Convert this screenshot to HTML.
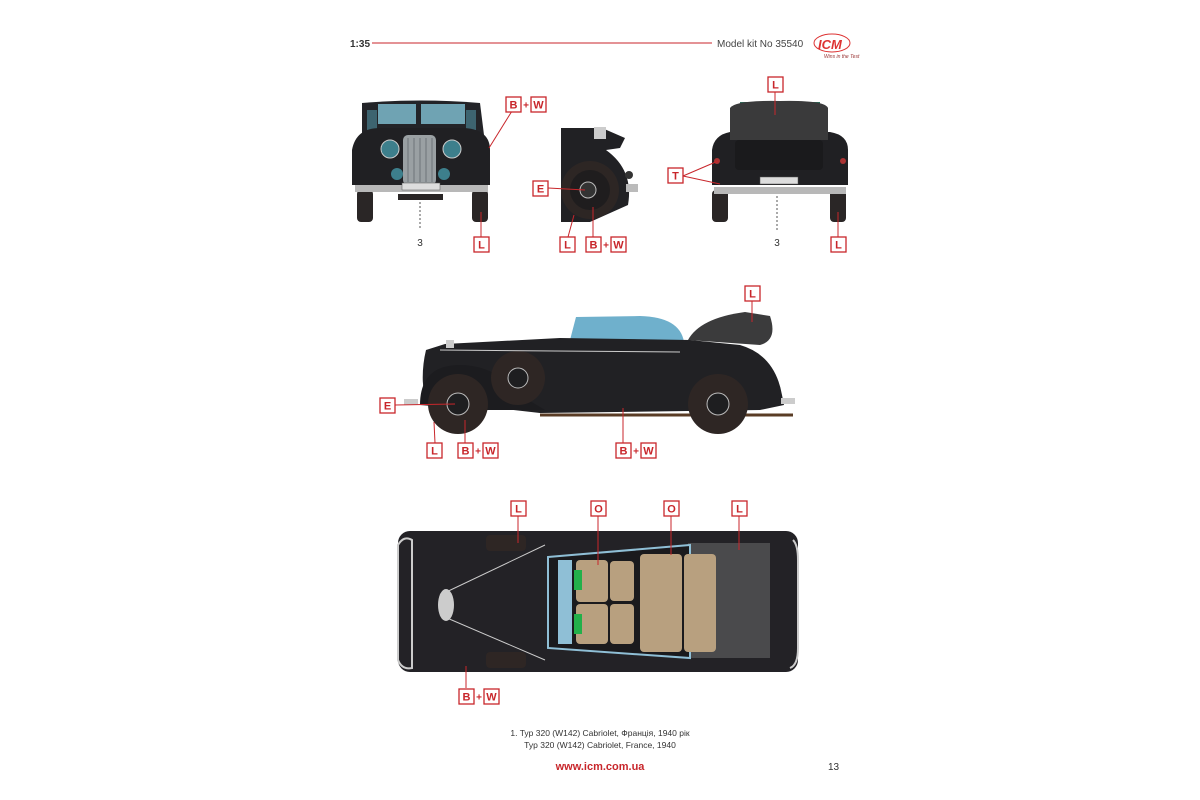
<!DOCTYPE html>
<html><head><meta charset="utf-8"><style>
html,body{margin:0;padding:0;background:#fff;}
svg{display:block}
text{font-family:"Liberation Sans",sans-serif}
.lb rect{fill:#fff;stroke:#c8262b;stroke-width:1.3}
.lb text{fill:#c8262b;font-weight:bold;font-size:11px;text-anchor:middle}
.ld{stroke:#c8262b;stroke-width:1;fill:none}
</style></head><body>
<svg width="1200" height="800" viewBox="0 0 1200 800" xmlns="http://www.w3.org/2000/svg">
<rect width="1200" height="800" fill="#fff"/>
<!-- header -->
<text x="350" y="47" font-size="10" font-weight="bold" fill="#333">1:35</text>
<line x1="372" y1="43" x2="712" y2="43" stroke="#c8262b" stroke-width="1"/>
<text x="717" y="47" font-size="10" fill="#444">Model kit No 35540</text>
<ellipse cx="832" cy="43" rx="18" ry="9" fill="none" stroke="#d33" stroke-width="1"/>
<text x="818" y="49" font-size="13" font-weight="bold" font-style="italic" fill="#d33">ICM</text>
<text x="824" y="58" font-size="5" font-style="italic" fill="#933">Wins in the Test</text>

<!-- FRONT VIEW -->
<g>
<rect x="357" y="190" width="16" height="32" rx="4" fill="#2a2626"/>
<rect x="472" y="190" width="16" height="32" rx="4" fill="#2a2626"/>
<path d="M362 103 Q420 98 480 103 L484 135 L362 135 Z" fill="#232428"/>
<rect x="378" y="104" width="38" height="20" fill="#6fa3b3"/>
<rect x="421" y="104" width="44" height="20" fill="#6fa3b3"/>
<rect x="367" y="110" width="10" height="20" fill="#3d6470"/>
<rect x="466" y="110" width="10" height="20" fill="#3d6470"/>
<path d="M352 150 Q356 128 380 128 L465 128 Q490 130 490 150 L490 185 L352 185 Z" fill="#202023"/>
<rect x="403" y="135" width="33" height="50" rx="5" fill="#9aa0a3"/>
<g stroke="#6e7478" stroke-width="1"><line x1="408" y1="138" x2="408" y2="182"/><line x1="414" y1="138" x2="414" y2="182"/><line x1="420" y1="138" x2="420" y2="182"/><line x1="426" y1="138" x2="426" y2="182"/><line x1="432" y1="138" x2="432" y2="182"/></g>
<circle cx="390" cy="149" r="9" fill="#3d7f8c" stroke="#ccc"/>
<circle cx="452" cy="149" r="9" fill="#3d7f8c" stroke="#ccc"/>
<circle cx="397" cy="174" r="6" fill="#3d7f8c"/>
<circle cx="444" cy="174" r="6" fill="#3d7f8c"/>
<rect x="355" y="185" width="133" height="7" fill="#b8b8b8"/>
<rect x="402" y="183" width="38" height="7" fill="#ddd" stroke="#555" stroke-width=".5"/>
<rect x="398" y="194" width="45" height="6" fill="#2a2626"/>
<line x1="420" y1="202" x2="420" y2="230" stroke="#555" stroke-dasharray="2,2"/>
<text x="420" y="246" font-size="10" fill="#333" text-anchor="middle">3</text>
</g>
<line class="ld" x1="489" y1="148" x2="512" y2="111"/>
<line class="ld" x1="481" y1="212" x2="481" y2="237"/>

<!-- SIDE-FRONT WHEEL -->
<g>
<path d="M561 128 L602 128 L625 138 L620 148 L606 150 Q634 170 628 205 L590 222 L561 222 Z" fill="#212124"/>
<circle cx="590" cy="190" r="29" fill="#2d2624"/>
<circle cx="590" cy="190" r="20" fill="#1f1d1e"/>
<circle cx="588" cy="190" r="8" fill="#333" stroke="#bbb"/>
<rect x="594" y="127" width="12" height="12" fill="#ccc"/>
<rect x="626" y="184" width="12" height="8" fill="#bbb"/>
<circle cx="629" cy="175" r="4" fill="#333"/>
</g>
<line class="ld" x1="548" y1="188" x2="585" y2="190"/>
<line class="ld" x1="568" y1="237" x2="574" y2="215"/>
<line class="ld" x1="593" y1="237" x2="593" y2="207"/>

<!-- REAR VIEW -->
<g>
<rect x="712" y="190" width="16" height="32" rx="4" fill="#2a2626"/>
<rect x="830" y="190" width="16" height="32" rx="4" fill="#2a2626"/>
<path d="M712 150 Q714 135 730 132 L830 132 Q848 135 848 150 L848 185 L712 185 Z" fill="#202023"/>
<rect x="740" y="102" width="80" height="6" fill="#2f6d5a"/>
<path d="M730 108 Q735 100 780 101 Q825 100 828 108 L828 140 L730 140 Z" fill="#3a3a3b"/>
<rect x="735" y="140" width="88" height="30" rx="4" fill="#1a1a1c"/>
<circle cx="717" cy="161" r="3" fill="#a33"/>
<circle cx="843" cy="161" r="3" fill="#a33"/>
<rect x="714" y="187" width="132" height="7" fill="#b8b8b8"/>
<rect x="760" y="177" width="38" height="7" fill="#ddd" stroke="#555" stroke-width=".5"/>
<line x1="777" y1="196" x2="777" y2="230" stroke="#555" stroke-dasharray="2,2"/>
<text x="777" y="246" font-size="10" fill="#333" text-anchor="middle">3</text>
</g>
<line class="ld" x1="775" y1="92" x2="775" y2="115"/>
<line class="ld" x1="683" y1="176" x2="718" y2="161"/>
<line class="ld" x1="683" y1="176" x2="720" y2="184"/>
<line class="ld" x1="838" y1="212" x2="838" y2="237"/>

<!-- SIDE VIEW -->
<g>
<line x1="540" y1="415" x2="793" y2="415" stroke="#5a3c25" stroke-width="3"/>
<path d="M570 340 L576 317 L640 316 Q680 317 684 342 Z" fill="#6fb0cc"/>
<path d="M688 340 Q700 318 745 312 L770 316 Q778 340 760 345 Z" fill="#3b3b3c"/>
<path d="M426 350 L445 344 L560 338 L690 340 L740 345 Q775 355 782 395 L784 405 L760 410 L540 413 L470 405 L425 400 Q420 375 426 350 Z" fill="#212124"/>
<path d="M420 405 Q420 365 460 365 Q495 365 520 395 L545 410 L480 410 Z" fill="#1c1c1f"/>
<circle cx="518" cy="378" r="27" fill="#2e2624"/>
<circle cx="518" cy="378" r="10" fill="#1e1e20" stroke="#bbb"/>
<line x1="440" y1="350" x2="680" y2="352" stroke="#ccc" stroke-width="1"/>
<circle cx="458" cy="404" r="30" fill="#2e2624"/>
<circle cx="458" cy="404" r="11" fill="#1e1e20" stroke="#bbb"/>
<circle cx="718" cy="404" r="30" fill="#2e2624"/>
<circle cx="718" cy="404" r="11" fill="#1e1e20" stroke="#bbb"/>
<rect x="404" y="399" width="14" height="6" fill="#ccc"/>
<rect x="781" y="398" width="14" height="6" fill="#ccc"/>
<rect x="446" y="340" width="8" height="8" fill="#ccc"/>
</g>
<line class="ld" x1="752" y1="301" x2="752" y2="322"/>
<line class="ld" x1="395" y1="405" x2="455" y2="404"/>
<line class="ld" x1="435" y1="443" x2="434" y2="422"/>
<line class="ld" x1="465" y1="443" x2="465" y2="420"/>
<line class="ld" x1="623" y1="443" x2="623" y2="408"/>

<!-- TOP VIEW -->
<g>
<rect x="398" y="531" width="400" height="141" rx="12" fill="#232226"/>
<rect x="486" y="535" width="40" height="16" rx="4" fill="#2e2624"/>
<rect x="486" y="652" width="40" height="16" rx="4" fill="#2e2624"/>
<rect x="688" y="543" width="82" height="115" fill="#4a4a4c"/>
<path d="M548 557 L690 545 L690 658 L548 648 Z" fill="#1a1a1d" stroke="#8fbfd6" stroke-width="2"/>
<rect x="558" y="560" width="14" height="84" fill="#8fbfd6"/>
<rect x="576" y="560" width="32" height="42" rx="4" fill="#b8a07f"/>
<rect x="576" y="604" width="32" height="40" rx="4" fill="#b8a07f"/>
<rect x="610" y="561" width="24" height="40" rx="4" fill="#b8a07f"/>
<rect x="610" y="604" width="24" height="40" rx="4" fill="#b8a07f"/>
<rect x="640" y="554" width="42" height="98" rx="4" fill="#b8a07f"/>
<rect x="684" y="554" width="32" height="98" rx="4" fill="#b8a07f"/>
<rect x="574" y="570" width="8" height="20" fill="#22b04a"/>
<rect x="574" y="614" width="8" height="20" fill="#22b04a"/>
<path d="M440 595 L545 545 M440 615 L545 660" stroke="#ccc" stroke-width="1"/>
<ellipse cx="446" cy="605" rx="8" ry="16" fill="#ccc"/>
<path d="M398 545 Q404 535 412 540 L412 668 Q402 670 398 660 Z" fill="none" stroke="#ccc" stroke-width="2"/>
<path d="M793 540 Q798 545 798 560 L798 648 Q798 665 790 668" fill="none" stroke="#ccc" stroke-width="2"/>
</g>
<line class="ld" x1="518" y1="516" x2="518" y2="543"/>
<line class="ld" x1="598" y1="516" x2="598" y2="565"/>
<line class="ld" x1="671" y1="516" x2="671" y2="555"/>
<line class="ld" x1="739" y1="516" x2="739" y2="550"/>
<line class="ld" x1="466" y1="688" x2="466" y2="666"/>

<!-- labels -->
<g class="lb">
<rect x="506" y="97" width="15" height="15"/><text x="513.5" y="108.5">B</text>
<text x="526" y="108.5" style="font-size:10px">+</text>
<rect x="531" y="97" width="15" height="15"/><text x="538.5" y="108.5">W</text>
<rect x="474" y="237" width="15" height="15"/><text x="481.5" y="248.5">L</text>
<rect x="533" y="181" width="15" height="15"/><text x="540.5" y="192.5">E</text>
<rect x="560" y="237" width="15" height="15"/><text x="567.5" y="248.5">L</text>
<rect x="586" y="237" width="15" height="15"/><text x="593.5" y="248.5">B</text>
<text x="606" y="248.5" style="font-size:10px">+</text>
<rect x="611" y="237" width="15" height="15"/><text x="618.5" y="248.5">W</text>
<rect x="768" y="77" width="15" height="15"/><text x="775.5" y="88.5">L</text>
<rect x="668" y="168" width="15" height="15"/><text x="675.5" y="179.5">T</text>
<rect x="831" y="237" width="15" height="15"/><text x="838.5" y="248.5">L</text>
<rect x="745" y="286" width="15" height="15"/><text x="752.5" y="297.5">L</text>
<rect x="380" y="398" width="15" height="15"/><text x="387.5" y="409.5">E</text>
<rect x="427" y="443" width="15" height="15"/><text x="434.5" y="454.5">L</text>
<rect x="458" y="443" width="15" height="15"/><text x="465.5" y="454.5">B</text>
<text x="478" y="454.5" style="font-size:10px">+</text>
<rect x="483" y="443" width="15" height="15"/><text x="490.5" y="454.5">W</text>
<rect x="616" y="443" width="15" height="15"/><text x="623.5" y="454.5">B</text>
<text x="636" y="454.5" style="font-size:10px">+</text>
<rect x="641" y="443" width="15" height="15"/><text x="648.5" y="454.5">W</text>
<rect x="511" y="501" width="15" height="15"/><text x="518.5" y="512.5">L</text>
<rect x="591" y="501" width="15" height="15"/><text x="598.5" y="512.5">O</text>
<rect x="664" y="501" width="15" height="15"/><text x="671.5" y="512.5">O</text>
<rect x="732" y="501" width="15" height="15"/><text x="739.5" y="512.5">L</text>
<rect x="459" y="689" width="15" height="15"/><text x="466.5" y="700.5">B</text>
<text x="479" y="700.5" style="font-size:10px">+</text>
<rect x="484" y="689" width="15" height="15"/><text x="491.5" y="700.5">W</text>
</g>

<!-- captions -->
<text x="600" y="736" font-size="8.5" fill="#333" text-anchor="middle">1. Typ 320 (W142) Cabriolet, Франція, 1940 рік</text>
<text x="600" y="748" font-size="8.5" fill="#333" text-anchor="middle">Typ 320 (W142) Cabriolet, France, 1940</text>
<text x="600" y="770" font-size="11" font-weight="bold" fill="#c8262b" text-anchor="middle">www.icm.com.ua</text>
<text x="828" y="770" font-size="10" fill="#333">13</text>
</svg>
</body></html>
